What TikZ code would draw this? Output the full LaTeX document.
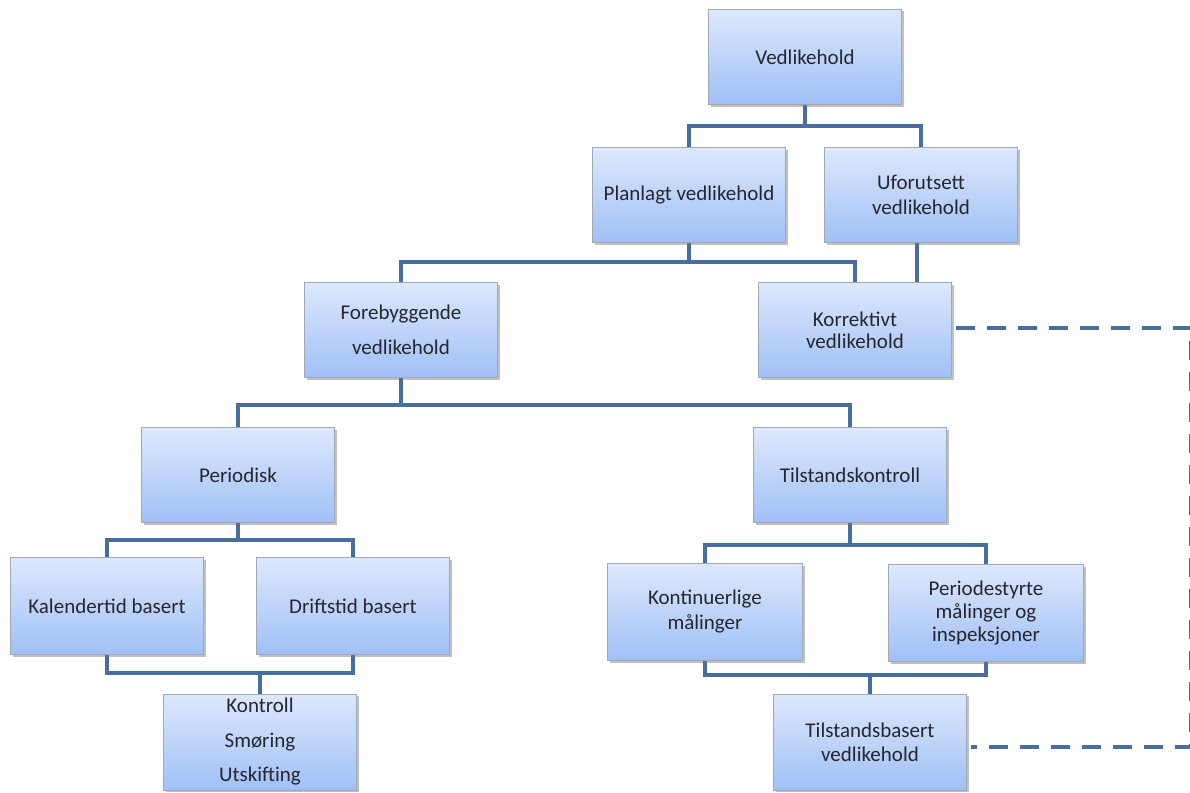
\documentclass[tikz,border=0pt]{standalone}
\usepackage{fontspec}
\setmainfont{Carlito}
\usetikzlibrary{shadows,backgrounds}
\definecolor{linkblue}{RGB}{72,110,160}
\definecolor{boxtop}{RGB}{221,232,252}
\definecolor{boxbot}{RGB}{160,192,246}
\definecolor{boxedge}{RGB}{160,168,182}
\definecolor{txt}{RGB}{38,38,48}
\tikzset{
  box/.style={rectangle, draw=boxedge, line width=0.8pt,
    top color=boxtop, bottom color=boxbot,
    minimum width=193pt, minimum height=95pt, inner sep=2pt,
    align=center, text=txt, font=\fontsize{21}{24}\selectfont,
    drop shadow={shadow xshift=2pt, shadow yshift=-2pt, fill=black!55, opacity=0.45}},
  lead/.style={font=\fontsize{21}{#1}\selectfont},
  conn/.style={draw=linkblue, line width=4.5pt, line join=miter},
  dashlink/.style={draw=linkblue, line width=4.5pt, dash pattern=on 19pt off 12pt}
}
\begin{document}
\begin{tikzpicture}[x=1pt,y=-1pt]
\useasboundingbox (0,0) rectangle (1190,792);

% boxes
\node[box] (ved)  at (805,57)  {Vedlikehold};
\node[box] (plan) at (689,195) {Planlagt vedlikehold};
\node[box, lead=25] (ufo)  at (921,195) {Uforutsett\\vedlikehold};
\node[box, lead=35] (fore) at (401,330) {Forebyggende\\vedlikehold};
\node[box, lead=22] (korr) at (855,330) {Korrektivt\\vedlikehold};
\node[box] (per)  at (238,475) {Periodisk};
\node[box] (tk)   at (850,475) {Tilstandskontroll};
\node[box, minimum height=97pt] (kal) at (107,606) {Kalendertid basert};
\node[box, minimum height=97pt] (drift) at (353,606) {Driftstid basert};
\node[box, lead=34.5, minimum height=96pt] (ktr) at (260,742) {Kontroll\\Smøring\\Utskifting};
\node[box, lead=25, minimum width=195pt, minimum height=97pt] (kont) at (705,612) {Kontinuerlige\\målinger};
\node[box, lead=22.5, minimum width=195pt, minimum height=97pt] (pst) at (986,613) {Periodestyrte\\målinger og\\inspeksjoner};
\node[box, lead=24, minimum height=96pt] (tb) at (870,742) {Tilstandsbasert\\vedlikehold};

% bus levels and right-hand return line
\coordinate (b1) at (0,126);
\coordinate (b2) at (0,262);
\coordinate (b3) at (0,405);
\coordinate (b4) at (0,540);
\coordinate (b5) at (0,673);
\coordinate (b6) at (0,545);
\coordinate (b7) at (0,675);
\coordinate (rt) at (1191,0);

\begin{scope}[on background layer]
\draw[conn] (ved.south) -- (ved.south |- b1) -| (plan.north);
\draw[conn] (ved.south |- b1) -| (ufo.north);
\draw[conn] (plan.south) -- (plan.south |- b2) -| (fore.north);
\draw[conn] (plan.south |- b2) -| (korr.north);
\draw[conn] ([xshift=-4pt]ufo.south) -- ([xshift=-4pt]ufo.south |- korr.north);
\draw[conn] (fore.south) -- (fore.south |- b3) -| (per.north);
\draw[conn] (fore.south |- b3) -| (tk.north);
\draw[conn] (per.south) -- (per.south |- b4) -| (kal.north);
\draw[conn] (per.south |- b4) -| (drift.north);
\draw[conn] (kal.south) |- (ktr.north |- b5) -| (drift.south);
\draw[conn] (ktr.north |- b5) -- (ktr.north);
\draw[conn] (tk.south) -- (tk.south |- b6) -| (kont.north);
\draw[conn] (tk.south |- b6) -| (pst.north);
\draw[conn] (kont.south) |- (tb.north |- b7) -| (pst.south);
\draw[conn] (tb.north |- b7) -- (tb.north);
\draw[dashlink] ([xshift=4pt,yshift=2pt]korr.east) -- ([yshift=2pt]korr.east -| rt)
  -- ([yshift=-5pt]tb.east -| rt) -- ([xshift=4pt,yshift=-5pt]tb.east);
\end{scope}
\end{tikzpicture}
\end{document}
